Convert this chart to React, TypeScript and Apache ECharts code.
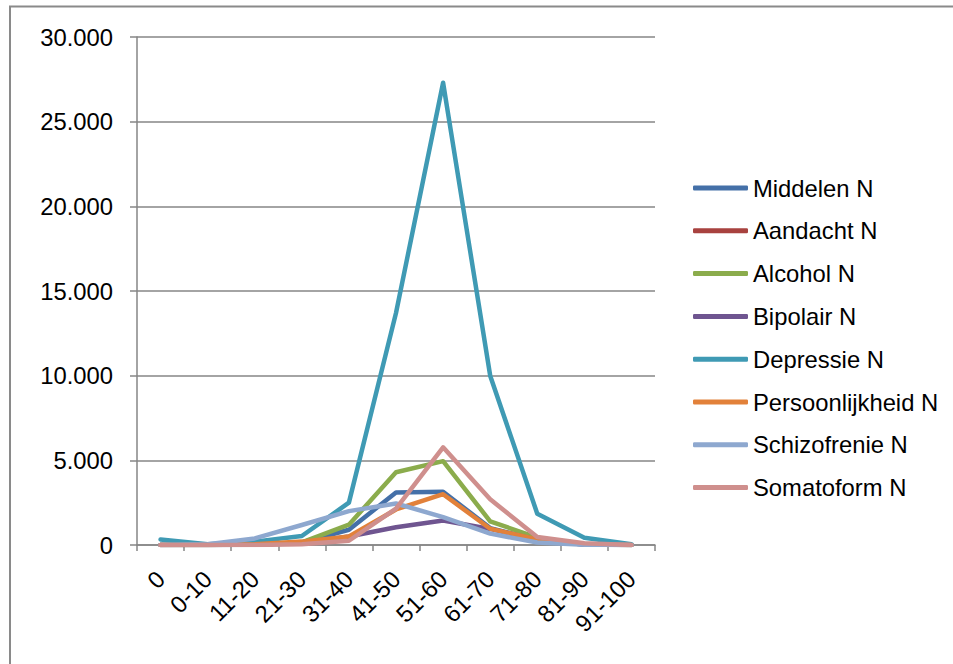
import React, { useEffect, useRef } from "react";
import * as echarts from "echarts";

const categories = ["0", "0-10", "11-20", "21-30", "31-40", "41-50", "51-60", "61-70", "71-80", "81-90", "91-100"];
const seriesNames = ["Middelen N", "Aandacht N", "Alcohol N", "Bipolair N", "Depressie N", "Persoonlijkheid N", "Schizofrenie N", "Somatoform N"];
const middelen = [0, 0, 20, 150, 900, 3100, 3150, 1000, 300, 30, 0];
const aandacht = [null, null, null, null, null, null, null, null, null, null, null];
const alcohol = [0, 0, 50, 150, 1200, 4300, 4950, 1400, 430, 50, 0];
const bipolair = [0, 0, 30, 100, 500, 1050, 1450, 950, 300, 30, 0];
const depressie = [330, 50, 200, 530, 2500, 13700, 27300, 10000, 1850, 430, 50];
const persoonlijkheid = [0, 0, 50, 200, 500, 2100, 3000, 960, 330, 50, 0];
const schizofrenie = [0, 50, 390, 1180, 2000, 2450, 1650, 670, 150, 20, 0];
const somatoform = [0, 0, 0, 50, 250, 2150, 5770, 2700, 470, 100, 0];
const colors = ["#4470a8", "#a8423f", "#8bac4c", "#6f5590", "#3f9ab4", "#e2813a", "#8ea8cf", "#cf8f8d"];

const FONT = "'Liberation Sans', Arial, sans-serif";
const FS = 23.8;

export default function App() {
  const ref = useRef<HTMLDivElement>(null);
  useEffect(() => {
    if (!ref.current) return;
    const chart = echarts.init(ref.current, undefined, { renderer: "svg" });
    const dataSets = [middelen, aandacht, alcohol, bipolair, depressie, persoonlijkheid, schizofrenie, somatoform];
    chart.setOption({
      animation: false,
      color: colors,
      textStyle: { fontFamily: FONT },
      graphic: [
        {
          type: "rect",
          shape: { x: 10, y: 6.5, width: 1000, height: 700 },
          style: { fill: "none", stroke: "#8a8a8a", lineWidth: 2 },
          silent: true,
        },
      ],
      legend: {
        orient: "vertical",
        left: 693,
        top: 176,
        padding: 0,
        itemWidth: 55,
        itemHeight: 5,
        itemGap: 18.8,
        icon: "roundRect",
        textStyle: { fontSize: FS, color: "#000", fontFamily: FONT, lineHeight: 23 },
        data: seriesNames,
      },
      grid: { left: 137, right: 298, top: 37, bottom: 119 },
      xAxis: {
        type: "category",
        data: categories,
        boundaryGap: true,
        axisLine: { lineStyle: { color: "#868686", width: 1.5 } },
        axisTick: { show: true, length: 6, lineStyle: { color: "#868686", width: 1.5 } },
        axisLabel: { rotate: 45, fontSize: FS, color: "#000", margin: 30, fontFamily: FONT },
      },
      yAxis: {
        type: "value",
        min: 0,
        max: 30000,
        interval: 5000,
        axisLine: { show: true, lineStyle: { color: "#868686", width: 1.5 } },
        axisTick: { show: true, length: 7, lineStyle: { color: "#868686", width: 1.5 } },
        splitLine: { lineStyle: { color: "#868686", width: 1.5 } },
        axisLabel: {
          fontSize: FS,
          color: "#000",
          margin: 24,
          fontFamily: FONT,
          formatter: (v: number) => (v === 0 ? "0" : v.toLocaleString("de-DE")),
        },
      },
      series: seriesNames.map((name, i) => ({
        name,
        type: "line",
        data: dataSets[i],
        symbol: "none",
        connectNulls: false,
        lineStyle: { width: 4.5, cap: "round", join: "round", color: colors[i] },
        itemStyle: { color: colors[i] },
      })),
    });
    return () => chart.dispose();
  }, []);
  return <div ref={ref} style={{ position: "absolute", left: 0, top: 0, width: 953, height: 664 }} />;
}
